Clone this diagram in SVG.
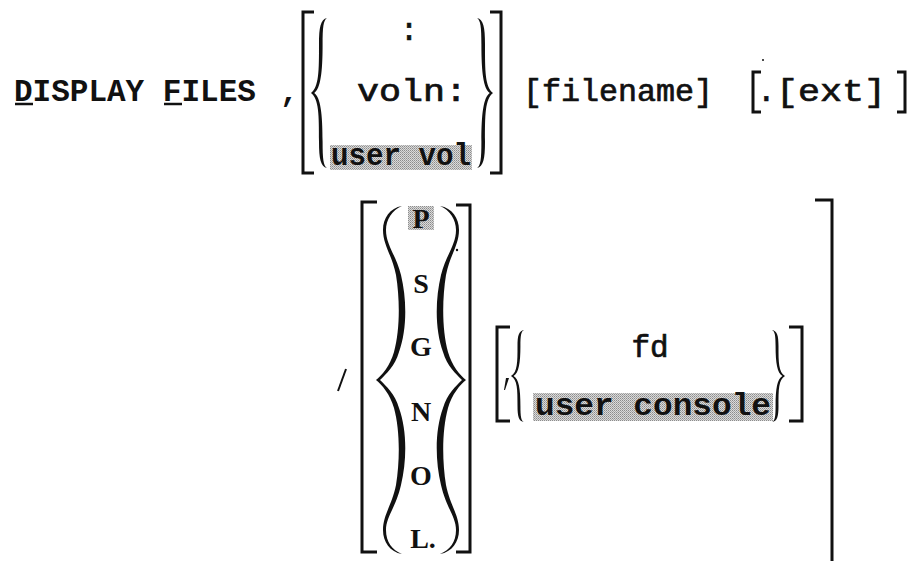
<svg xmlns="http://www.w3.org/2000/svg" xmlns:xlink="http://www.w3.org/1999/xlink" width="915" height="561" viewBox="0 0 915 561">
  <style>
    .mono { font-family: "Liberation Mono", "Courier New", monospace; font-size: 31px; fill: #111; }
    .reg { stroke: #111; stroke-width: 0.7; }
    .bold { font-weight: bold; }
    .serif { font-family: "Liberation Serif", "Times New Roman", serif; font-weight: bold; font-size: 28px; fill: #111; text-anchor: middle; }
    .brk { fill: none; stroke: #111; stroke-width: 3; stroke-linejoin: miter; }
    .ink { fill: #111; }
    .shade { fill: url(#halftone); }
  </style>
  <defs>
    <!-- stippled grey used for default choices -->
    <pattern id="halftone" width="2" height="2" patternUnits="userSpaceOnUse">
      <rect width="2" height="2" fill="#dadada"/>
      <rect width="1" height="1" fill="#8c8c8c"/>
      <rect x="1" y="1" width="1" height="1" fill="#a8a8a8"/>
    </pattern>
    <!-- left curly brace in a 20 x 200 box, tip at (0,100) -->
    <path id="lbrace" d="M20,0 C12,2 10,12 10,35 C10,70 10,92 0,100 C10,108 10,130 10,165 C10,188 12,198 20,200 C15.5,197 14.5,188 14.5,165 C14.5,128 12,106 4,100 C12,94 14.5,72 14.5,35 C14.5,12 15.5,3 20,0 Z"/>
    <!-- left half of the tall option brace around P S G N O L -->
    <path id="tallHalf" d="M402,206 C390,208 383,218 383,230 C383,245 392,255 396,275 C400,300 400,330 394,352 C390,366 382,375 376,380 C382,385 390,394 394,408 C400,430 400,460 396,485 C392,505 383,515 383,530 C383,542 390,552 402,554 C392,550 386,542 386,530 C386,517 396,507 401,485 C407,460 407,430 399,408 C395,394 386,386 380,380 C386,374 395,366 399,352 C407,330 407,300 401,275 C396,255 386,245 386,230 C386,220 392,210 402,206 Z"/>
  </defs>

  <!-- command keyword -->
  <g id="command">
    <text class="mono bold" x="14" y="101">DISPLAY FILES</text>
    <line x1="15" y1="104" x2="33" y2="104" stroke="#111" stroke-width="2.5"/>
    <line x1="164" y1="104" x2="182" y2="104" stroke="#111" stroke-width="2.5"/>
    <text class="mono bold" x="280" y="101">,</text>
  </g>

  <!-- volume choice -->
  <g id="volume">
    <path class="brk" d="M314,12 H303 V173 H314"/>
    <use xlink:href="#lbrace" class="ink" transform="translate(311,18) scale(0.8,0.75)"/>
    <text class="mono reg" x="409" y="40" text-anchor="middle">:</text>
    <text class="mono reg" x="412" y="101" text-anchor="middle" font-size="33" textLength="110" lengthAdjust="spacingAndGlyphs">voln:</text>
    <rect class="shade" x="330" y="145" width="142" height="25"/>
    <text class="mono bold" x="331" y="165" textLength="140" lengthAdjust="spacingAndGlyphs">user vol</text>
    <use xlink:href="#lbrace" class="ink" transform="translate(493,18) scale(-0.8,0.75)"/>
    <path class="brk" d="M490,12 H501 V173 H490"/>
  </g>

  <!-- file name -->
  <g id="filename">
    <text class="mono reg" x="523" y="101" textLength="190" lengthAdjust="spacingAndGlyphs">[filename]</text>
  </g>

  <!-- extension -->
  <g id="extension">
    <path class="brk" d="M761,72 H753 V112 H761"/>
    <text class="mono reg" x="757" y="101">.</text>
    <text class="mono reg" x="776" y="101" font-size="33" textLength="110" lengthAdjust="spacingAndGlyphs">[ext]</text>
    <path class="brk" d="M897,72 H905 V112 H897"/>
    <circle class="ink" cx="763" cy="60" r="1"/>
  </g>

  <!-- option switch -->
  <g id="switch">
    <line x1="338" y1="391" x2="346" y2="369" stroke="#111" stroke-width="2"/>
    <path class="brk" d="M377,202 H362 V552 H377"/>
    <use xlink:href="#tallHalf" class="ink"/>
    <use xlink:href="#tallHalf" class="ink" transform="translate(842,0) scale(-1,1)"/>
    <path class="brk" d="M456,205 H470 V552 H456"/>
    <rect class="shade" x="408" y="206" width="26" height="24"/>
    <text class="serif" x="421" y="228">P</text>
    <text class="serif" x="421" y="293">S</text>
    <text class="serif" x="421" y="356">G</text>
    <text class="serif" x="421" y="421">N</text>
    <text class="serif" x="421" y="485">O</text>
    <text class="serif" x="423" y="548">L.</text>
    <circle class="ink" cx="457" cy="250" r="1.2"/>
  </g>

  <!-- output device -->
  <g id="device">
    <path class="brk" d="M510,327 H497 V421 H510"/>
    <path class="ink" d="M506,378 L509,378 L505,390 L504,390 Z"/>
    <use xlink:href="#lbrace" class="ink" transform="translate(511,330) scale(0.65,0.46)"/>
    <text class="mono reg" x="650" y="357" text-anchor="middle" font-size="33">fd</text>
    <rect class="shade" x="533" y="393" width="240" height="28"/>
    <text class="mono bold" x="535" y="415" textLength="236" lengthAdjust="spacingAndGlyphs">user console</text>
    <use xlink:href="#lbrace" class="ink" transform="translate(785,330) scale(-0.65,0.46)"/>
    <path class="brk" d="M789,327 H802 V421 H789"/>
  </g>

  <!-- closing bracket of the whole option -->
  <g id="outer">
    <path class="brk" d="M815,200 H832 V561"/>
  </g>
</svg>
